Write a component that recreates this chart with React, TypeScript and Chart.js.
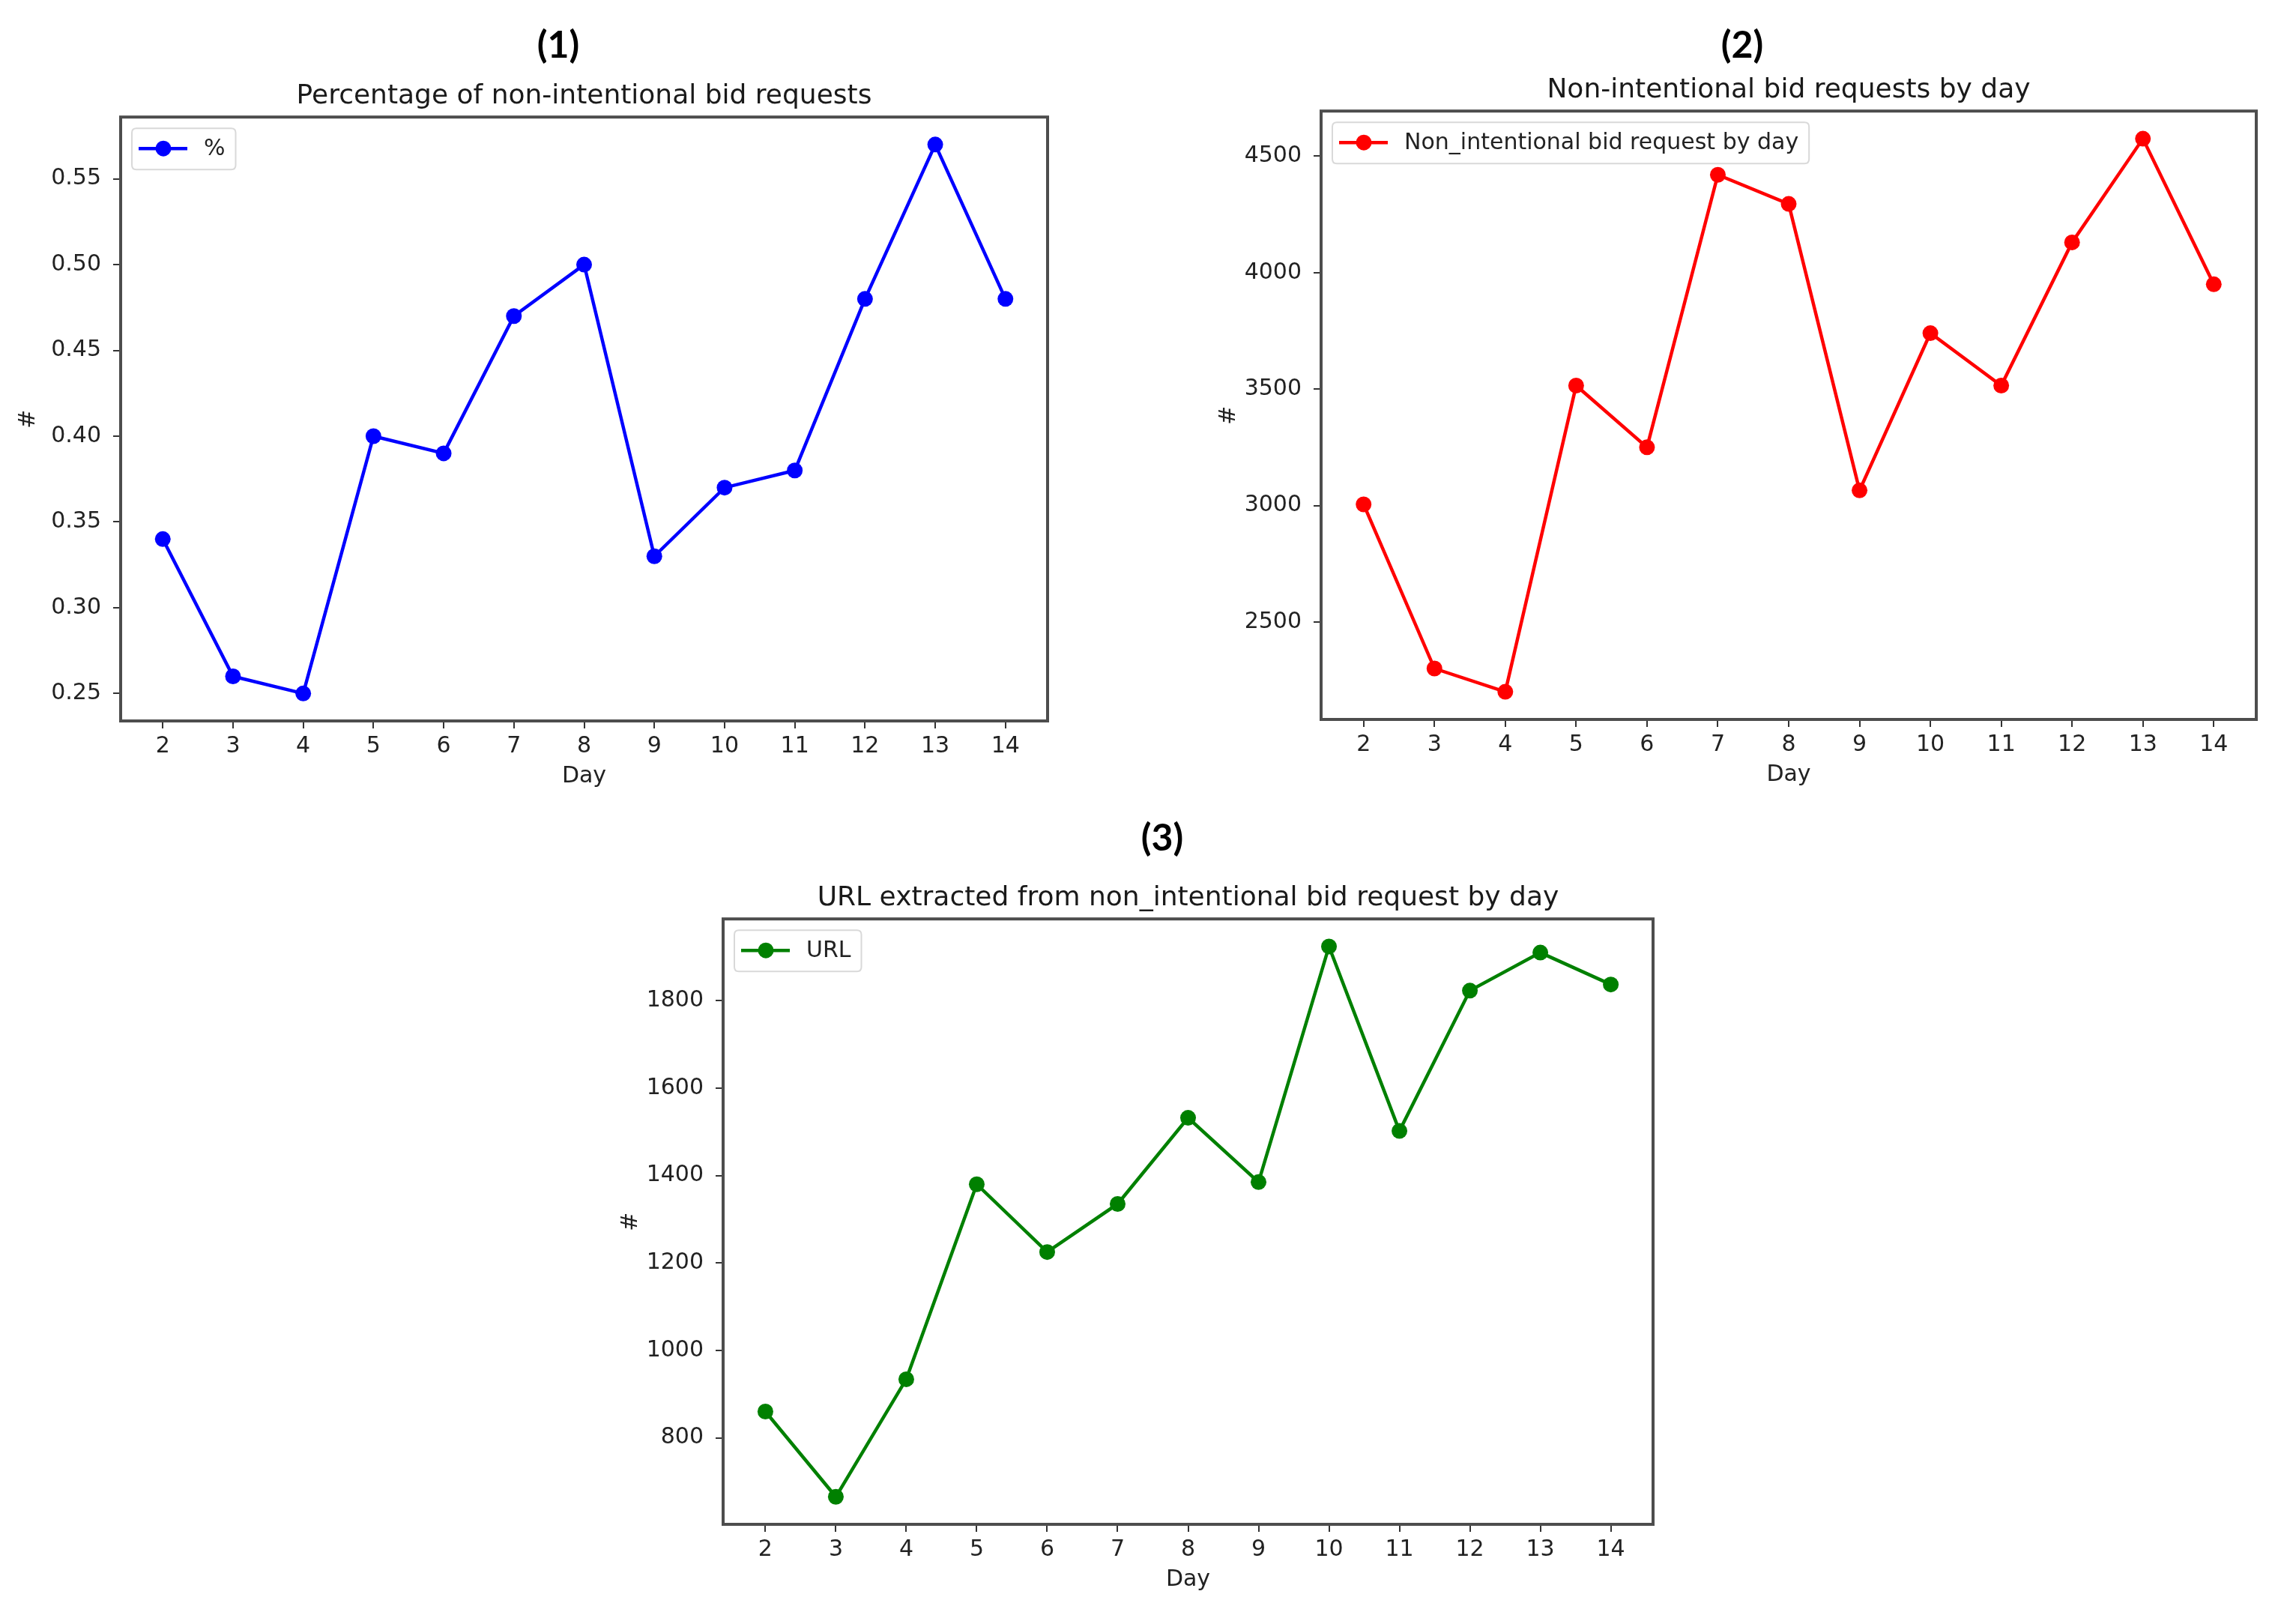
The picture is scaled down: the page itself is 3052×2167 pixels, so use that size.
import React, { useEffect, useRef } from "react";
import { Chart, registerables } from "chart.js";

Chart.register(...registerables);

// ---------------- data ----------------
const days = [2, 3, 4, 5, 6, 7, 8, 9, 10, 11, 12, 13, 14];
const pctValues = [0.34, 0.26, 0.25, 0.4, 0.39, 0.47, 0.5, 0.33, 0.37, 0.38, 0.48, 0.57, 0.48];
const bidValues = [3005, 2300, 2200, 3515, 3250, 4420, 4295, 3065, 3740, 3515, 4130, 4575, 3950];
const urlValues = [860, 665, 934, 1380, 1225, 1335, 1532, 1385, 1924, 1502, 1823, 1910, 1837];

const pctTicks = [0.25, 0.3, 0.35, 0.4, 0.45, 0.5, 0.55];
const bidTicks = [2500, 3000, 3500, 4000, 4500];
const urlTicks = [800, 1000, 1200, 1400, 1600, 1800];

const chartTitles = [
  "Percentage of non-intentional bid requests",
  "Non-intentional bid requests by day",
  "URL extracted from non_intentional bid request by day",
];
const legendLabels = ["%", "Non_intentional bid request by day", "URL"];
const panelLabels = ["(1)", "(2)", "(3)"];
const xAxisTitle = "Day";
const yAxisTitle = "#";

// ---------------- layout / style ----------------
const FONT = '"DejaVu Sans", "Liberation Sans", sans-serif';
const TEXT = "#222222";

type Panel = {
  values: number[];
  ticks: number[];
  fmt: (v: number) => string;
  title: string;
  legend: string;
  color: string;
  plot: { l: number; t: number; r: number; b: number };
  label: string;
  labelPos: { x: number; y: number };
};

const panels: Panel[] = [
  {
    values: pctValues,
    ticks: pctTicks,
    fmt: (v) => v.toFixed(2),
    title: chartTitles[0],
    legend: legendLabels[0],
    color: "#0000ff",
    plot: { l: 161, t: 156, r: 1398, b: 962 },
    label: panelLabels[0],
    labelPos: { x: 745, y: 58 },
  },
  {
    values: bidValues,
    ticks: bidTicks,
    fmt: (v) => String(v),
    title: chartTitles[1],
    legend: legendLabels[1],
    color: "#ff0000",
    plot: { l: 1763, t: 148, r: 3011, b: 960 },
    label: panelLabels[1],
    labelPos: { x: 2325, y: 58 },
  },
  {
    values: urlValues,
    ticks: urlTicks,
    fmt: (v) => String(v),
    title: chartTitles[2],
    legend: legendLabels[2],
    color: "#008000",
    plot: { l: 965, t: 1226, r: 2206, b: 2034 },
    label: panelLabels[2],
    labelPos: { x: 1551, y: 1116 },
  },
];

const Y_AXIS_W = 141;
const X_AXIS_H = 100;
const PAD = { left: 10, top: 30, right: 30, bottom: 10 };
const TITLE_FONT = 36;
const TITLE_H = Math.round(TITLE_FONT * 1.2) + 10;

function makeDecorPlugin(label: string, color: string) {
  return {
    id: "frameLegend",
    afterDraw(chart: any) {
      const ctx = chart.ctx as CanvasRenderingContext2D;
      const a = chart.chartArea;
      ctx.save();
      // frame (all four spines)
      ctx.strokeStyle = "#4d4d4d";
      ctx.lineWidth = 4;
      ctx.strokeRect(a.left, a.top, a.right - a.left, a.bottom - a.top);

      // legend
      ctx.font = `30px ${FONT}`;
      const tw = ctx.measureText(label).width;
      const bx = a.left + 15;
      const by = a.top + 15;
      const bh = 55;
      const bw = 96 + tw + 14;
      const r = 6;
      ctx.beginPath();
      ctx.moveTo(bx + r, by);
      ctx.lineTo(bx + bw - r, by);
      ctx.quadraticCurveTo(bx + bw, by, bx + bw, by + r);
      ctx.lineTo(bx + bw, by + bh - r);
      ctx.quadraticCurveTo(bx + bw, by + bh, bx + bw - r, by + bh);
      ctx.lineTo(bx + r, by + bh);
      ctx.quadraticCurveTo(bx, by + bh, bx, by + bh - r);
      ctx.lineTo(bx, by + r);
      ctx.quadraticCurveTo(bx, by, bx + r, by);
      ctx.closePath();
      ctx.fillStyle = "rgba(255,255,255,0.85)";
      ctx.fill();
      ctx.strokeStyle = "#d9d9d9";
      ctx.lineWidth = 2;
      ctx.stroke();

      const ly = by + 27;
      ctx.strokeStyle = color;
      ctx.lineWidth = 4.5;
      ctx.beginPath();
      ctx.moveTo(bx + 9, ly);
      ctx.lineTo(bx + 74, ly);
      ctx.stroke();
      ctx.fillStyle = color;
      ctx.beginPath();
      ctx.arc(bx + 42, ly, 10.5, 0, Math.PI * 2);
      ctx.fill();

      ctx.fillStyle = TEXT;
      ctx.textBaseline = "middle";
      ctx.textAlign = "left";
      ctx.fillText(label, bx + 96, ly + 1);
      ctx.restore();
    },
  };
}

function PanelChart({ p }: { p: Panel }) {
  const ref = useRef<HTMLCanvasElement>(null);
  const left = p.plot.l - Y_AXIS_W - PAD.left;
  const top = p.plot.t - TITLE_H - PAD.top;
  const width = p.plot.r + PAD.right - left;
  const height = p.plot.b + X_AXIS_H + PAD.bottom - top;

  useEffect(() => {
    if (!ref.current) return;
    const dmin = Math.min(...p.values);
    const dmax = Math.max(...p.values);
    const margin = (dmax - dmin) * 0.05;
    const grid = {
      drawOnChartArea: false,
      drawTicks: true,
      tickLength: 10,
      color: "#333333",
      lineWidth: 2,
    };
    const chart = new Chart(ref.current, {
      type: "line",
      data: {
        datasets: [
          {
            label: p.legend,
            data: days.map((d, i) => ({ x: d, y: p.values[i] })),
            borderColor: p.color,
            backgroundColor: p.color,
            pointBackgroundColor: p.color,
            pointBorderColor: p.color,
            pointRadius: 10.5,
            pointBorderWidth: 0,
            borderWidth: 4.5,
            tension: 0,
            fill: false,
          },
        ],
      },
      options: {
        animation: false,
        responsive: false,
        maintainAspectRatio: false,
        devicePixelRatio: 1,
        layout: { padding: PAD },
        plugins: {
          legend: { display: false },
          tooltip: { enabled: false },
          title: {
            display: true,
            text: p.title,
            fullSize: false,
            color: "#1a1a1a",
            font: { size: TITLE_FONT, family: FONT, weight: "normal" },
            padding: { top: 4, bottom: 6 },
          },
        },
        scales: {
          x: {
            type: "linear",
            min: 1.4,
            max: 14.6,
            afterBuildTicks: (s: any) => {
              s.ticks = days.map((v) => ({ value: v }));
            },
            afterFit: (s: any) => {
              s.height = X_AXIS_H;
            },
            grid,
            border: { display: false },
            ticks: {
              autoSkip: false,
              maxRotation: 0,
              padding: 6,
              color: TEXT,
              font: { size: 30, family: FONT },
              callback: (v: any) => String(v),
            },
            title: {
              display: true,
              text: xAxisTitle,
              color: TEXT,
              font: { size: 30, family: FONT },
              padding: { top: 0, bottom: 8 },
            },
          },
          y: {
            type: "linear",
            min: dmin - margin,
            max: dmax + margin,
            afterBuildTicks: (s: any) => {
              s.ticks = p.ticks.map((v) => ({ value: v }));
            },
            afterFit: (s: any) => {
              s.width = Y_AXIS_W;
            },
            grid,
            border: { display: false },
            ticks: {
              autoSkip: false,
              padding: 16,
              color: TEXT,
              font: { size: 30, family: FONT },
              callback: (v: any) => p.fmt(Number(v)),
            },
            title: {
              display: true,
              text: yAxisTitle,
              color: TEXT,
              font: { size: 30, family: FONT },
              padding: { top: 0, bottom: 0 },
            },
          },
        },
      } as any,
      plugins: [makeDecorPlugin(p.legend, p.color)],
    });
    return () => chart.destroy();
  }, []);

  return (
    <canvas
      ref={ref}
      width={width}
      height={height}
      style={{ position: "absolute", left, top, width, height }}
    />
  );
}

export default function App() {
  return (
    <div
      style={{
        position: "absolute",
        left: 0,
        top: 0,
        width: 3052,
        height: 2167,
        background: "#ffffff",
        overflow: "hidden",
      }}
    >
      {panels.map((p, i) => (
        <React.Fragment key={i}>
          <PanelChart p={p} />
          <div
            style={{
              position: "absolute",
              left: p.labelPos.x,
              top: p.labelPos.y,
              transform: "translate(-50%, -50%)",
              fontFamily: 'Lato, "Open Sans", sans-serif',
              fontWeight: 700,
              fontSize: 50,
              lineHeight: 1,
              color: "#000000",
              whiteSpace: "nowrap",
            }}
          >
            {p.label}
          </div>
        </React.Fragment>
      ))}
    </div>
  );
}
